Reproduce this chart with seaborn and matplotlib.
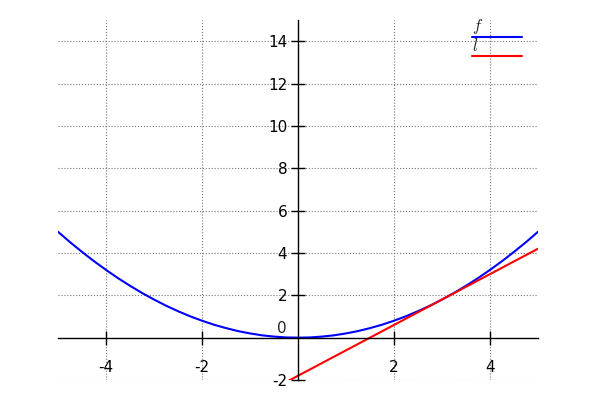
import numpy as np
import pandas as pd
import seaborn as sns
import matplotlib.pyplot as plt
from matplotlib.legend_handler import HandlerLine2D

# curve f
x_f = [-5, -4.75, -4.5, -4.25, -4, -3.75, -3.5, -3.25, -3, -2.75, -2.5,
       -2.25, -2, -1.75, -1.5, -1.25, -1, -0.75, -0.5, -0.25, 0,
       0.25, 0.5, 0.75, 1, 1.25, 1.5, 1.75, 2, 2.25, 2.5,
       2.75, 3, 3.25, 3.5, 3.75, 4, 4.25, 4.5, 4.75, 5]
y_f = [5.0, 4.51, 4.05, 3.61, 3.2, 2.81, 2.45, 2.11, 1.8, 1.51, 1.25,
       1.01, 0.8, 0.61, 0.45, 0.31, 0.2, 0.11, 0.05, 0.01, 0.0,
       0.01, 0.05, 0.11, 0.2, 0.31, 0.45, 0.61, 0.8, 1.01, 1.25,
       1.51, 1.8, 2.11, 2.45, 2.81, 3.2, 3.61, 4.05, 4.51, 5.0]
# line l
x_l = [-5, 5]
y_l = [-7.8, 4.2]

x_ticks = [-4, -2, 2, 4]
y_ticks = [-2, 2, 4, 6, 8, 10, 12, 14]

df_f = pd.DataFrame({'x': x_f, 'y': y_f})
df_l = pd.DataFrame({'x': x_l, 'y': y_l})

sns.set_style('white')
plt.rcParams['font.family'] = ['DejaVu Sans']
plt.rcParams['axes.unicode_minus'] = False
plt.rcParams['mathtext.fontset'] = 'cm'

fig = plt.figure(figsize=(6, 4), dpi=100)
ax = fig.add_axes([58/600, 20/400, 480/600, 360/400])

sns.lineplot(data=df_f, x='x', y='y', color='#0000ff', lw=1.5, label='$f$', ax=ax, sort=False)
sns.lineplot(data=df_l, x='x', y='y', color='#ff0000', lw=1.5, label='$l$', ax=ax, sort=False)

ax.set_xlim(-5, 5)
ax.set_ylim(-2, 15)
ax.set_xlabel('')
ax.set_ylabel('')

# centred spines
ax.spines['left'].set_position(('data', 0))
ax.spines['bottom'].set_position(('data', 0))
ax.spines['right'].set_visible(False)
ax.spines['top'].set_visible(False)
for s in ['left', 'bottom']:
    ax.spines[s].set_color('black')
    ax.spines[s].set_linewidth(1.0)

ax.set_xticks(x_ticks)
ax.set_yticks(y_ticks)
ax.tick_params(bottom=True, left=True, direction='inout', length=9.5, width=1,
               colors='black', labelsize=11)
ax.tick_params(axis='x', pad=11.5)
ax.tick_params(axis='y', pad=3)
ax.text(-0.23, 0.24, '0', ha='right', va='baseline', fontsize=11)

ax.grid(True, linestyle=':', color='#777777', linewidth=0.8)

class ShiftedLine(HandlerLine2D):
    def create_artists(self, legend, orig_handle, xdescent, ydescent,
                       width, height, fontsize, trans):
        arts = super().create_artists(legend, orig_handle, xdescent, ydescent,
                                      width, height, fontsize, trans)
        for a in arts:
            a.set_ydata(np.asarray(a.get_ydata()) - 0.95 * height)
        return arts

handles, labels = ax.get_legend_handles_labels()
ax.legend(handles, labels, loc='upper right', bbox_to_anchor=(0.899, 1.0256),
          frameon=False, fontsize=12, handlelength=3.0, handletextpad=-3.0,
          labelspacing=0.03, borderaxespad=0,
          handler_map={h: ShiftedLine() for h in handles})

plt.savefig('out.png')
